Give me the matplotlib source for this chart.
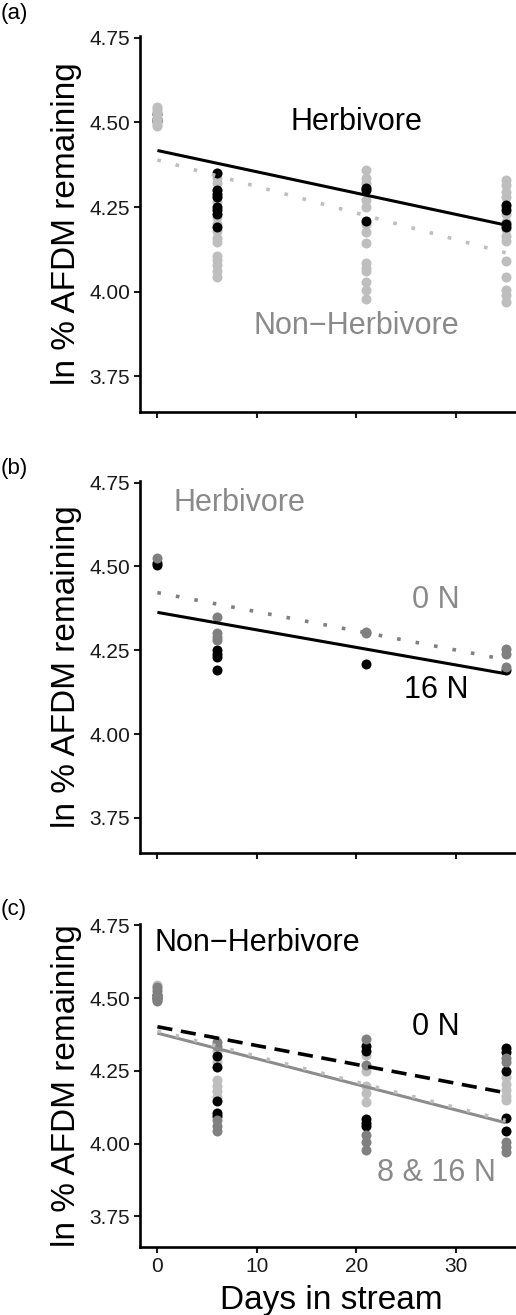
import numpy as np
import matplotlib.pyplot as plt

plt.rcParams['font.family'] = ['Liberation Sans', 'DejaVu Sans']

days = [0, 10, 20, 30]

# Herbivore, 0 N (grey in panel b)
herb_0n_day = [0, 6, 6, 6, 6, 21, 21, 35, 35, 35]
herb_0n_val = [4.525, 4.35, 4.30, 4.29, 4.28, 4.305, 4.30, 4.255, 4.24, 4.20]
# Herbivore, 16 N (black in panel b)
herb_16n_day = [0, 0, 6, 6, 6, 6, 21, 35]
herb_16n_val = [4.51, 4.505, 4.25, 4.24, 4.23, 4.19, 4.21, 4.19]

# Non-herbivore, 0 N
nh_0n_day = [0, 0, 6, 6, 6, 6, 6, 21, 21, 21, 21, 21, 35, 35, 35, 35, 35]
nh_0n_val = [4.51, 4.50, 4.30, 4.265, 4.147, 4.105, 4.095,
             4.335, 4.32, 4.085, 4.07, 4.06,
             4.33, 4.315, 4.25, 4.09, 4.045]
# Non-herbivore, 8 N
nh_8n_day = [0, 0, 0, 0, 0, 6, 6, 6, 6, 6, 21, 21, 21, 21, 21, 35, 35, 35, 35, 35]
nh_8n_val = [4.54, 4.525, 4.51, 4.495, 4.49,
             4.35, 4.335, 4.08, 4.06, 4.045,
             4.36, 4.27, 4.03, 4.005, 3.98,
             4.295, 4.28, 4.005, 3.99, 3.97]
# Non-herbivore, 16 N
nh_16n_day = [0, 0, 6, 6, 6, 6, 6, 6, 21, 21, 21, 21, 21, 35, 35, 35, 35, 35]
nh_16n_val = [4.545, 4.53,
              4.32, 4.28, 4.22, 4.20, 4.18, 4.16,
              4.305, 4.25, 4.20, 4.175, 4.145,
              4.23, 4.205, 4.185, 4.165, 4.15]

# fitted lines, value at day 0 and day 35
line_days = [0, 35]
fit_a_herb = [4.417, 4.197]
fit_a_nonherb = [4.389, 4.115]
fit_b_0n = [4.422, 4.222]
fit_b_16n = [4.363, 4.180]
fit_c_0n = [4.402, 4.175]
fit_c_8n = [4.380, 4.072]
fit_c_16n = [4.388, 4.080]

BLACK = '#000000'
MID = '#808080'
LIGHT = '#bebebe'
TEXTGREY = '#8a8a8a'

W, H = 516, 1315
fig = plt.figure(figsize=(W / 100, H / 100), dpi=100)

def px_axes(top, bottom, left=140, right=523):
    return fig.add_axes([left / W, 1 - bottom / H, (right - left) / W, (bottom - top) / H])

ax_a = px_axes(36, 412)
ax_b = px_axes(481, 853)
ax_c = px_axes(924, 1247)

dotted = (0, (1, 4.2))
dashed = (0, (4.2, 2.4))
ms = 52
lw = 2.2
lw_dot = 2.6

def style(ax, show_x):
    ax.set_xlim(-1.75, 36.75)
    ax.set_ylim(3.645, 4.755)
    ax.set_yticks([3.75, 4.00, 4.25, 4.50, 4.75])
    ax.set_yticklabels(['3.75', '4.00', '4.25', '4.50', '4.75'])
    ax.set_xticks(days)
    if not show_x:
        ax.set_xticklabels([])
    for s in ['top', 'right']:
        ax.spines[s].set_visible(False)
    for s in ['left', 'bottom']:
        ax.spines[s].set_linewidth(1.9)
    ax.tick_params(length=4, width=1.5, labelsize=15, pad=3, colors='#1a1a1a')
    ax.set_ylabel('ln % AFDM remaining', fontsize=24)
    ax.yaxis.set_label_coords(-0.152, 0.5)

# panel (a)
ax_a.scatter(herb_16n_day + herb_0n_day, herb_16n_val + herb_0n_val,
             s=ms, color=BLACK, linewidths=0, zorder=3)
nh_day = np.array(nh_0n_day + nh_8n_day + nh_16n_day)
nh_val = np.array(nh_0n_val + nh_8n_val + nh_16n_val)
ax_a.scatter(nh_day[nh_day > 0], nh_val[nh_day > 0], s=ms, color=LIGHT, linewidths=0, zorder=2)
ax_a.scatter(nh_day[nh_day == 0], nh_val[nh_day == 0], s=ms, color=LIGHT, linewidths=0, zorder=4)
ax_a.plot(line_days, fit_a_nonherb, color=LIGHT, lw=lw_dot, linestyle=dotted, zorder=5)
ax_a.plot(line_days, fit_a_herb, color=BLACK, lw=lw, zorder=6, solid_capstyle='butt')
ax_a.text(20, 4.5, 'Herbivore', fontsize=22, ha='center', va='center', color=BLACK)
ax_a.text(20, 3.9, 'Non\u2212Herbivore', fontsize=22, ha='center', va='center', color=TEXTGREY)
style(ax_a, False)

# panel (b)
ax_b.scatter(herb_16n_day, herb_16n_val, s=ms, color=BLACK, linewidths=0, zorder=2)
ax_b.scatter(herb_0n_day, herb_0n_val, s=ms, color=MID, linewidths=0, zorder=3)
ax_b.plot(line_days, fit_b_0n, color=MID, lw=lw_dot, linestyle=dotted, zorder=4)
ax_b.plot(line_days, fit_b_16n, color=BLACK, lw=lw, zorder=5, solid_capstyle='butt')
ax_b.text(8.2, 4.69, 'Herbivore', fontsize=22, ha='center', va='center', color=TEXTGREY)
ax_b.text(28, 4.4, '0 N', fontsize=22, ha='center', va='center', color=TEXTGREY)
ax_b.text(28, 4.13, '16 N', fontsize=22, ha='center', va='center', color=BLACK)
style(ax_b, False)

# panel (c)
ax_c.scatter(nh_16n_day, nh_16n_val, s=ms, color=LIGHT, linewidths=0, zorder=2)
ax_c.scatter(nh_0n_day, nh_0n_val, s=ms, color=BLACK, linewidths=0, zorder=3)
ax_c.scatter(nh_8n_day, nh_8n_val, s=ms, color=MID, linewidths=0, zorder=4)
ax_c.plot(line_days, fit_c_8n, color='#8c8c8c', lw=lw, zorder=5, solid_capstyle='butt')
ax_c.plot(line_days, fit_c_16n, color=LIGHT, lw=lw_dot, linestyle=dotted, zorder=6)
ax_c.plot(line_days, fit_c_0n, color=BLACK, lw=2.6, linestyle=dashed, zorder=7)
ax_c.text(10, 4.69, 'Non\u2212Herbivore', fontsize=22, ha='center', va='center', color=BLACK)
ax_c.text(28, 4.4, '0 N', fontsize=22, ha='center', va='center', color=BLACK)
ax_c.text(28, 3.9, '8 & 16 N', fontsize=22, ha='center', va='center', color=TEXTGREY)
style(ax_c, True)
ax_c.set_xticklabels(['0', '10', '20', '30'])
ax_c.tick_params(axis='x', pad=3)

fig.text(331.5 / W, 6 / H, 'Days in stream', fontsize=24, ha='center', va='baseline')

for lab, ypx in [('(a)', 14), ('(b)', 468), ('(c)', 910)]:
    fig.text(1 / W, 1 - ypx / H, lab, fontsize=16, ha='left', va='center')

fig.savefig('out.png', dpi=100)
